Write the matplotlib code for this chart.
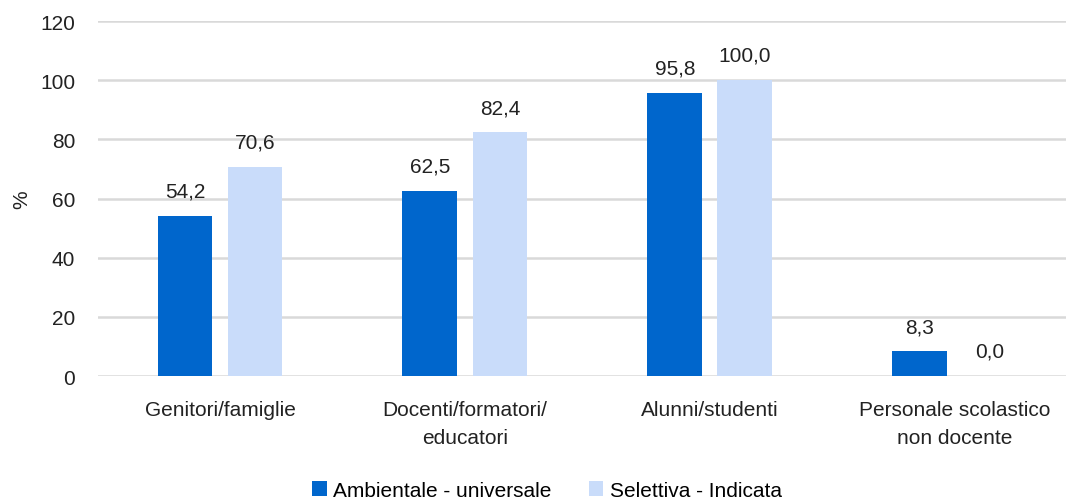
import matplotlib.pyplot as plt
import numpy as np
from matplotlib import font_manager

# Data
categories = ['Genitori/famiglie', 'Docenti/formatori/\neducatori', 'Alunni/studenti',
              'Personale scolastico\nnon docente']
ambientale = [54.2, 62.5, 95.8, 8.3]
selettiva = [70.6, 82.4, 100.0, 0.0]
series_names = ['Ambientale - universale', 'Selettiva - Indicata']

names = {f.name for f in font_manager.fontManager.ttflist}
fam = 'Liberation Sans Narrow' if 'Liberation Sans Narrow' in names else 'Liberation Sans'
plt.rcParams['font.family'] = [fam, 'DejaVu Sans']
plt.rcParams['font.size'] = 15

fig = plt.figure(figsize=(10.66, 5.02), dpi=100)
ax = fig.add_axes([0.0915, 0.249, 0.919, 0.707])

x = np.arange(len(categories))
w = 0.224
off = 0.143
b1 = ax.bar(x - off, ambientale, w, color='#0066CC', label=series_names[0], zorder=3)
b2 = ax.bar(x + off, selettiva, w, color='#C9DCFA', label=series_names[1], zorder=3)

for bars, vals in ((b1, ambientale), (b2, selettiva)):
    for rect, v in zip(bars, vals):
        ax.annotate(f'{v:.1f}'.replace('.', ','), (rect.get_x() + rect.get_width() / 2, v),
                    xytext=(0, 11), textcoords='offset points', ha='center', va='bottom',
                    fontsize=15, color='#222222')

ax.set_xlim(-0.5, 3.5)
ax.set_ylim(0, 120)
ax.set_yticks(range(0, 121, 20))
ax.set_xticks(x)
ax.set_xticklabels(categories, linespacing=1.6)
ax.tick_params(axis='both', length=0, colors='#222222', labelsize=15)
ax.tick_params(axis='x', pad=17)
ax.tick_params(axis='y', pad=16)
ax.grid(axis='y', color='#D9D9D9', lw=1.8, zorder=0)
for s in ax.spines.values():
    s.set_visible(False)
ax.set_ylabel('%', fontsize=15, color='#222222')
ax.yaxis.set_label_coords(-0.068, 0.5)

fig.legend(loc='lower center', bbox_to_anchor=(0.513, -0.035), ncol=2, frameon=False,
           fontsize=15, handlelength=0.7, handleheight=0.7, handletextpad=0.3,
           columnspacing=1.8)

fig.savefig('out.png', dpi=100)
